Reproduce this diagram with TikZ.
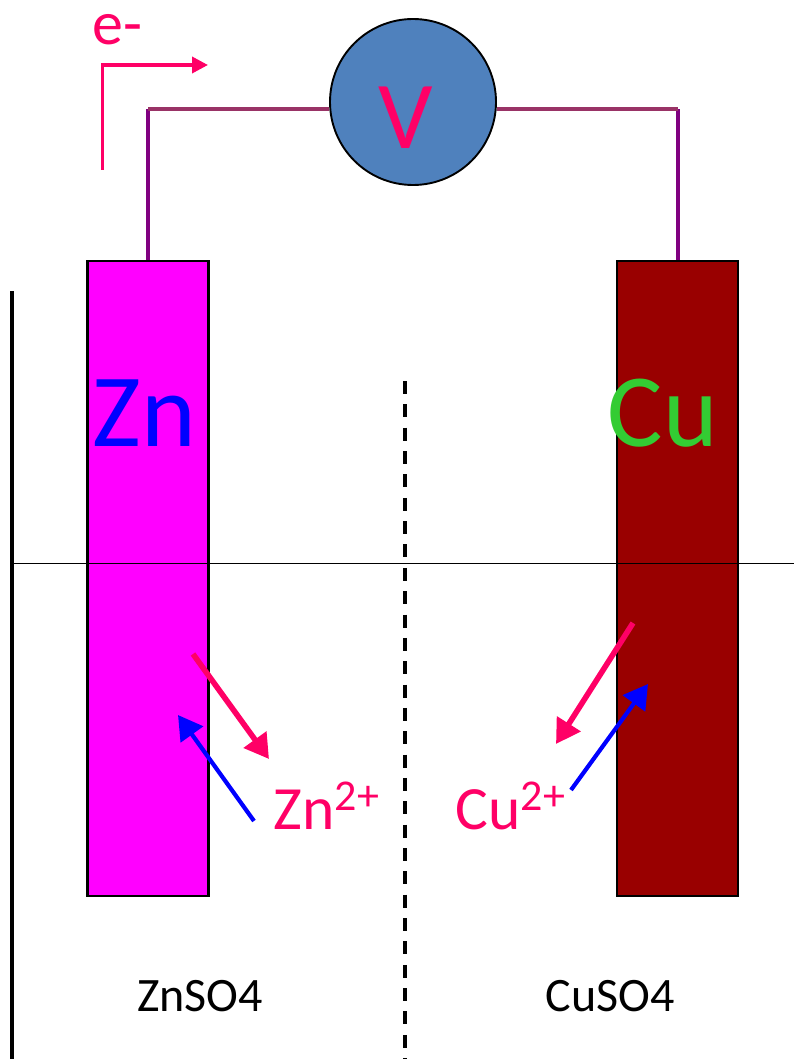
\documentclass[tikz,border=0pt]{standalone}
\usepackage{fontspec}
\setmainfont{Carlito}
\usetikzlibrary{arrows.meta}
\definecolor{pinkish}{HTML}{FF0066}
\definecolor{wirev}{HTML}{800080}
\definecolor{wireh}{HTML}{993366}
\definecolor{voltb}{HTML}{4F81BD}
\definecolor{cuc}{HTML}{990000}
\definecolor{zinc}{HTML}{FF00FF}
\definecolor{cutxt}{HTML}{33CC33}
\newcommand{\supt}[1]{\raisebox{19pt}{\fontsize{44}{44}\selectfont #1}}
\tikzset{x=1pt,y=-1pt,
 electrode/.style={draw=black,line width=2.1pt,minimum width=121pt,minimum height=635pt,inner sep=0pt},
 wire/.style={line width=4pt},
 pinkarrow/.style={draw=pinkish,line width=5.6pt,-{Triangle[length=24pt,width=27pt]}},
 bluearrow/.style={draw=blue,line width=4.2pt,-{Triangle[length=24pt,width=27pt]}},
 lbl/.style={inner sep=0pt,anchor=base}}
\begin{document}
\begin{tikzpicture}
\useasboundingbox (0,0) rectangle (794,1059);
\coordinate (wallT) at (12,291);
\coordinate (wallB) at (12,1059);
\draw[line width=3.9pt] (wallT) -- (wallB);
\coordinate (divT) at (405,381);
\coordinate (divB) at (405,1059);
\draw[line width=3.1pt,dash pattern=on 13pt off 10.35pt] (divT) -- (divB);
\node[electrode,fill=zinc] (zn) at (148,578.5) {};
\node[electrode,fill=cuc] (cu) at (677.5,578.5) {};
\coordinate (surfL) at (12,563.5);
\coordinate (surfR) at (794,563.5);
\draw[line width=1.6pt] (surfL) -- (surfR);
\node[circle,draw=black,line width=1.9pt,fill=voltb,minimum size=166pt,inner sep=0pt] (v) at (413,102) {};
\node[lbl,text=pinkish,font=\fontsize{96}{96}\selectfont] (vt) at (406,149) {V};
\coordinate (wl) at (148,109);
\coordinate (wr) at (677.5,109);
\draw[wire,wirev] (zn.north) -- (wl);
\draw[wire,wireh] (wl) -- (wl -| v.west);
\draw[wire,wirev] (cu.north) -- (wr);
\draw[wire,wireh] (wr) -- (wr -| v.east);
\node[lbl,text=blue,font=\fontsize{104}{104}\selectfont] (znt) at (144,446) {Zn};
\node[lbl,text=cutxt,font=\fontsize{104}{104}\selectfont] (cut) at (663,446) {Cu};
\node[lbl,text=pinkish,font=\fontsize{62}{62}\selectfont] (em) at (117.5,44.5) {e-};
\node[lbl,text=pinkish,font=\fontsize{61.5}{61.5}\selectfont] (zni) at (326.5,829) {Zn\supt{2+}};
\node[lbl,text=pinkish,font=\fontsize{61.5}{61.5}\selectfont] (cui) at (510.5,829) {Cu\supt{2+}};
\node[lbl,text=black,font=\fontsize{48}{48}\selectfont] (zs) at (200,1011) {ZnSO4};
\node[lbl,text=black,font=\fontsize{48}{48}\selectfont] (cs) at (610,1011) {CuSO4};
\coordinate (e0) at (102.5,170);
\coordinate (e1) at (102.5,65);
\coordinate (e2) at (208,65);
\draw[pinkish,line width=3.6pt,-{Triangle[length=16pt,width=16pt]}] (e0) -- (e1) -- (e2);
\coordinate (a1) at (193,654); \coordinate (a2) at (269,759);
\draw[pinkarrow] (a1) -- (a2);
\coordinate (b1) at (254,821); \coordinate (b2) at (178,715);
\draw[bluearrow] (b1) -- (b2);
\coordinate (c1) at (633,623); \coordinate (c2) at (556,744);
\draw[pinkarrow] (c1) -- (c2);
\coordinate (d1) at (571,790); \coordinate (d2) at (648,684);
\draw[bluearrow] (d1) -- (d2);
\end{tikzpicture}
\end{document}
